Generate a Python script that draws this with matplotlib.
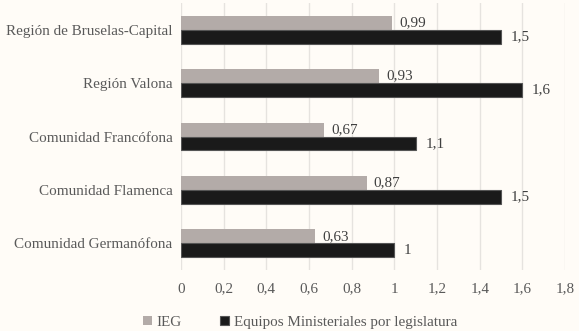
import numpy as np
import matplotlib.pyplot as plt

plt.rcParams['font.family'] = ['Liberation Serif', 'DejaVu Serif']

categorias = ["Región de Bruselas-Capital", "Región Valona", "Comunidad Francófona",
              "Comunidad Flamenca", "Comunidad Germanófona"]
ieg = [0.99, 0.93, 0.67, 0.87, 0.63]
equipos = [1.5, 1.6, 1.1, 1.5, 1]
ieg_txt = ["0,99", "0,93", "0,67", "0,87", "0,63"]
equipos_txt = ["1,5", "1,6", "1,1", "1,5", "1"]
xticks = [0, 0.2, 0.4, 0.6, 0.8, 1, 1.2, 1.4, 1.6, 1.8]

bg = '#FFFCF7'
fs = 10.9
fig = plt.figure(figsize=(5.79, 3.31), dpi=100, facecolor=bg)
ax = fig.add_axes([0.3126, 0.184, 0.6634, 0.807], facecolor=bg)

y = np.arange(len(categorias))
h = 0.26
ax.barh(y - h / 2, ieg, height=h, color='#B3ABA8', label='IEG', zorder=3)
ax.barh(y + h / 2, equipos, height=h, color='#1A1A1A', edgecolor='#555555',
        linewidth=0.8, label='Equipos Ministeriales por legislatura', zorder=3)

for yi, v, t in zip(y, ieg, ieg_txt):
    ax.annotate(t, (v, yi - h / 2), xytext=(5, 0), textcoords='offset points',
                va='center', ha='left', fontsize=fs, color='#404040')
for yi, v, t in zip(y, equipos, equipos_txt):
    ax.annotate(t, (v, yi + h / 2), xytext=(7, 0), textcoords='offset points',
                va='center', ha='left', fontsize=fs, color='#404040')

ax.set_ylim(len(categorias) - 0.5, -0.5)
ax.set_xlim(0, 1.8)
ax.set_yticks(y)
ax.set_yticklabels(categorias, fontsize=fs, color='#595959')
ax.set_xticks(xticks)
ax.set_xticklabels([f"{t:g}".replace('.', ',') for t in xticks], fontsize=fs, color='#595959')
ax.tick_params(length=0, pad=9)
ax.tick_params(axis='y', pad=6)
ax.grid(axis='x', color='#E6E3DF', linewidth=1, zorder=0)
for s in ax.spines.values():
    s.set_visible(False)

ax.legend(loc='upper center', bbox_to_anchor=(0.31, -0.12), ncol=2, frameon=False,
          fontsize=fs, handlelength=0.6, handleheight=0.6, handletextpad=0.3,
          columnspacing=2.5, labelcolor='#595959')

plt.savefig('out.png', dpi=100, facecolor=bg)
